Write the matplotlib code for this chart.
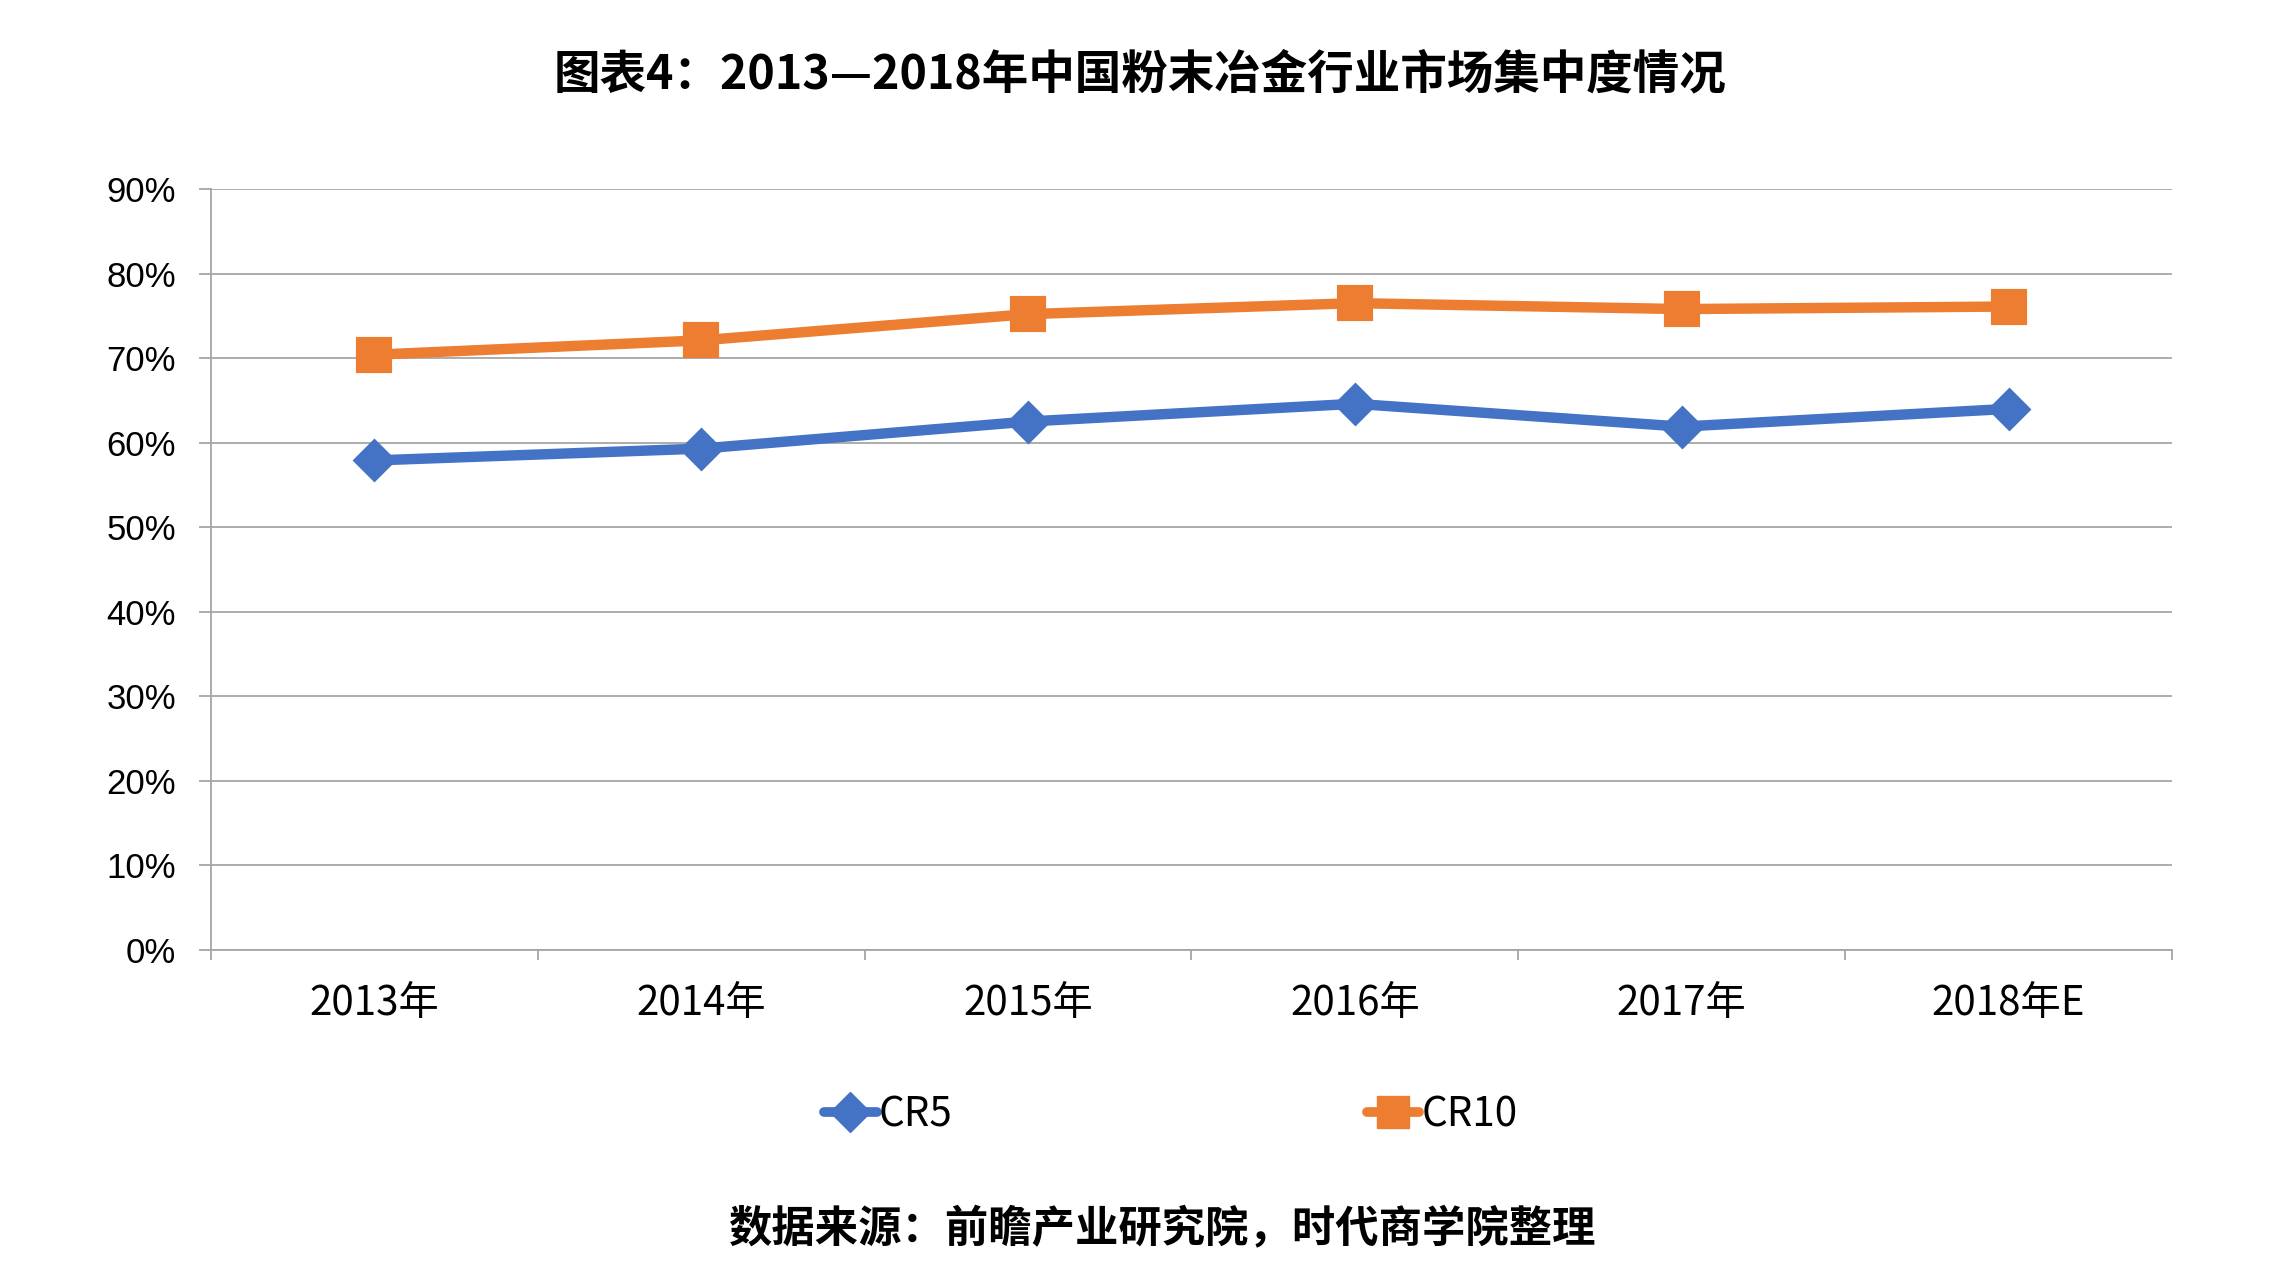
import matplotlib
matplotlib.use("Agg")
import matplotlib.pyplot as plt
from matplotlib.lines import Line2D
from matplotlib.ticker import FixedLocator, PercentFormatter

plt.rcParams['font.family'] = ['Noto Sans CJK SC', 'DejaVu Sans']

categories = ["2013年", "2014年", "2015年", "2016年", "2017年", "2018年E"]
cr5 = [0.579, 0.593, 0.625, 0.646, 0.619, 0.640]
cr10 = [0.704, 0.721, 0.752, 0.765, 0.758, 0.761]
yticks = [0.0, 0.1, 0.2, 0.3, 0.4, 0.5, 0.6, 0.7, 0.8, 0.9]
title = "图表4：2013—2018年中国粉末冶金行业市场集中度情况"
source = "数据来源：前瞻产业研究院，时代商学院整理"

BLUE = "#4472C4"
ORANGE = "#ED7D31"
GRID = "#A6A6A6"

fig = plt.figure(figsize=(22.8, 12.83), dpi=100)
ax = fig.add_axes([0.0925, 0.2595, 0.8601, 0.5932])

x = list(range(len(categories)))
ax.plot(x, cr5, color=BLUE, lw=7.5, marker='D', markersize=20,
        markeredgewidth=2, markeredgecolor=BLUE, solid_joinstyle='round',
        solid_capstyle='round', zorder=3)
ax.plot(x, cr10, color=ORANGE, lw=7.5, marker='s', markersize=23,
        markeredgewidth=3, markeredgecolor=ORANGE, solid_joinstyle='round',
        solid_capstyle='round', zorder=3)

ax.set_xlim(-0.5, len(categories) - 0.5)
ax.set_ylim(0, 0.9)
ax.yaxis.set_major_locator(FixedLocator(yticks))
ax.yaxis.set_major_formatter(PercentFormatter(1.0, decimals=0))
ax.set_xticks(x)
ax.set_xticklabels(categories)
ax.xaxis.set_minor_locator(FixedLocator([i - 0.5 for i in range(len(categories) + 1)]))

ax.grid(axis='y', color=GRID, lw=1.3)
ax.set_axisbelow(True)
for s in ['top', 'right']:
    ax.spines[s].set_visible(False)
for s in ['left', 'bottom']:
    ax.spines[s].set_color(GRID)
    ax.spines[s].set_linewidth(1.3)

ax.tick_params(axis='y', which='major', length=9, width=1.3, color=GRID,
               labelsize=25, pad=16)
ax.tick_params(axis='x', which='major', length=0, labelsize=29, pad=24)
ax.tick_params(axis='x', which='minor', length=7, width=1.3, color=GRID)
for lab in ax.get_yticklabels():
    lab.set_family(['Liberation Sans', 'DejaVu Sans'])

fig.text(0.5, 0.942, title, ha='center', va='center', fontsize=33.5,
         fontweight='bold')
fig.text(0.5096, 0.043, source, ha='center', va='center', fontsize=31.2,
         fontweight='bold')

h5 = Line2D([], [], color=BLUE, lw=7, marker='D', markersize=20,
            markeredgecolor=BLUE, solid_capstyle='round')
h10 = Line2D([], [], color=ORANGE, lw=7, marker='s', markersize=23,
             markeredgecolor=ORANGE, solid_capstyle='round')
for h, lab, xpos in [(h5, "CR5", 0.3615), (h10, "CR10", 0.5995)]:
    fig.legend([h], [lab], loc='center left', bbox_to_anchor=(xpos, 0.131),
               frameon=False, fontsize=29, handlelength=1.3,
               handletextpad=0.05, borderpad=0, borderaxespad=0)

fig.savefig("out.png", dpi=100)
